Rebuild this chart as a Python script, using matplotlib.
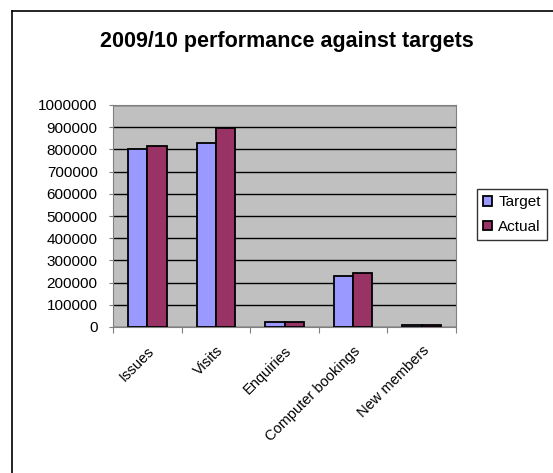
import numpy as np
import matplotlib.pyplot as plt
from matplotlib.lines import Line2D

categories = ["Issues", "Visits", "Enquiries", "Computer bookings", "New members"]
target = [800000, 827000, 24000, 231000, 7000]
actual = [817000, 898000, 24000, 242000, 7000]
yticks = list(range(0, 1000001, 100000))

plt.rcParams['font.family'] = ['Liberation Sans', 'DejaVu Sans']

fig = plt.figure(figsize=(5.53, 4.73), dpi=100)
W, H = 553, 473

# outer chart border (only left and top are inside the picture)
fig.lines.append(Line2D([12 / W, 12 / W], [0, 1 - 11 / H], transform=fig.transFigure,
                        color='black', linewidth=1.2))
fig.lines.append(Line2D([12 / W, 1], [1 - 11 / H, 1 - 11 / H], transform=fig.transFigure,
                        color='black', linewidth=1.2))

ax = fig.add_axes([113 / W, 1 - 327 / H, 343 / W, 222 / H])
ax.set_facecolor('#C0C0C0')

x = np.arange(len(categories))
w = 0.28
ax.bar(x - w / 2, target, w, color='#9999FF', edgecolor='black', linewidth=1.3,
       label='Target', zorder=3)
ax.bar(x + w / 2, actual, w, color='#993366', edgecolor='black', linewidth=1.3,
       label='Actual', zorder=3)

ax.set_xlim(-0.5, len(categories) - 0.5)
ax.set_ylim(0, 1000000)
ax.set_yticks(yticks)
ax.set_yticklabels([str(v) for v in yticks], fontsize=11)
ax.yaxis.grid(True, color='black', linewidth=1)
ax.set_axisbelow(True)

# category ticks at boundaries, labels at centers
ax.set_xticks(np.arange(len(categories) + 1) - 0.5)
ax.set_xticklabels([])
ax.set_xticks(x, minor=True)
ax.set_xticklabels(categories, minor=True, rotation=45, ha='right', va='top',
                   rotation_mode='anchor', fontsize=10.5)
ax.tick_params(axis='x', which='minor', length=0, pad=12)
ax.tick_params(axis='x', which='major', length=4, direction='out', color='#808080')
ax.tick_params(axis='y', length=3, direction='out', color='#808080', pad=8)

for s in ['top', 'right', 'left', 'bottom']:
    ax.spines[s].set_color('#808080')

fig.text(0.5 * (88 + 485) / W, 1 - 42 / H, "2009/10 performance against targets",
         ha='center', va='center', fontsize=15.5, fontweight='bold')

leg = fig.legend(loc='upper left', bbox_to_anchor=(477 / W, 1 - 189 / H),
                 fontsize=11, frameon=True, fancybox=False, edgecolor='black',
                 handlelength=0.6, handleheight=0.6, handletextpad=0.4,
                 borderpad=0.4, labelspacing=0.7, borderaxespad=0)
leg.get_frame().set_linewidth(1)

fig.savefig('out.png', dpi=100)
